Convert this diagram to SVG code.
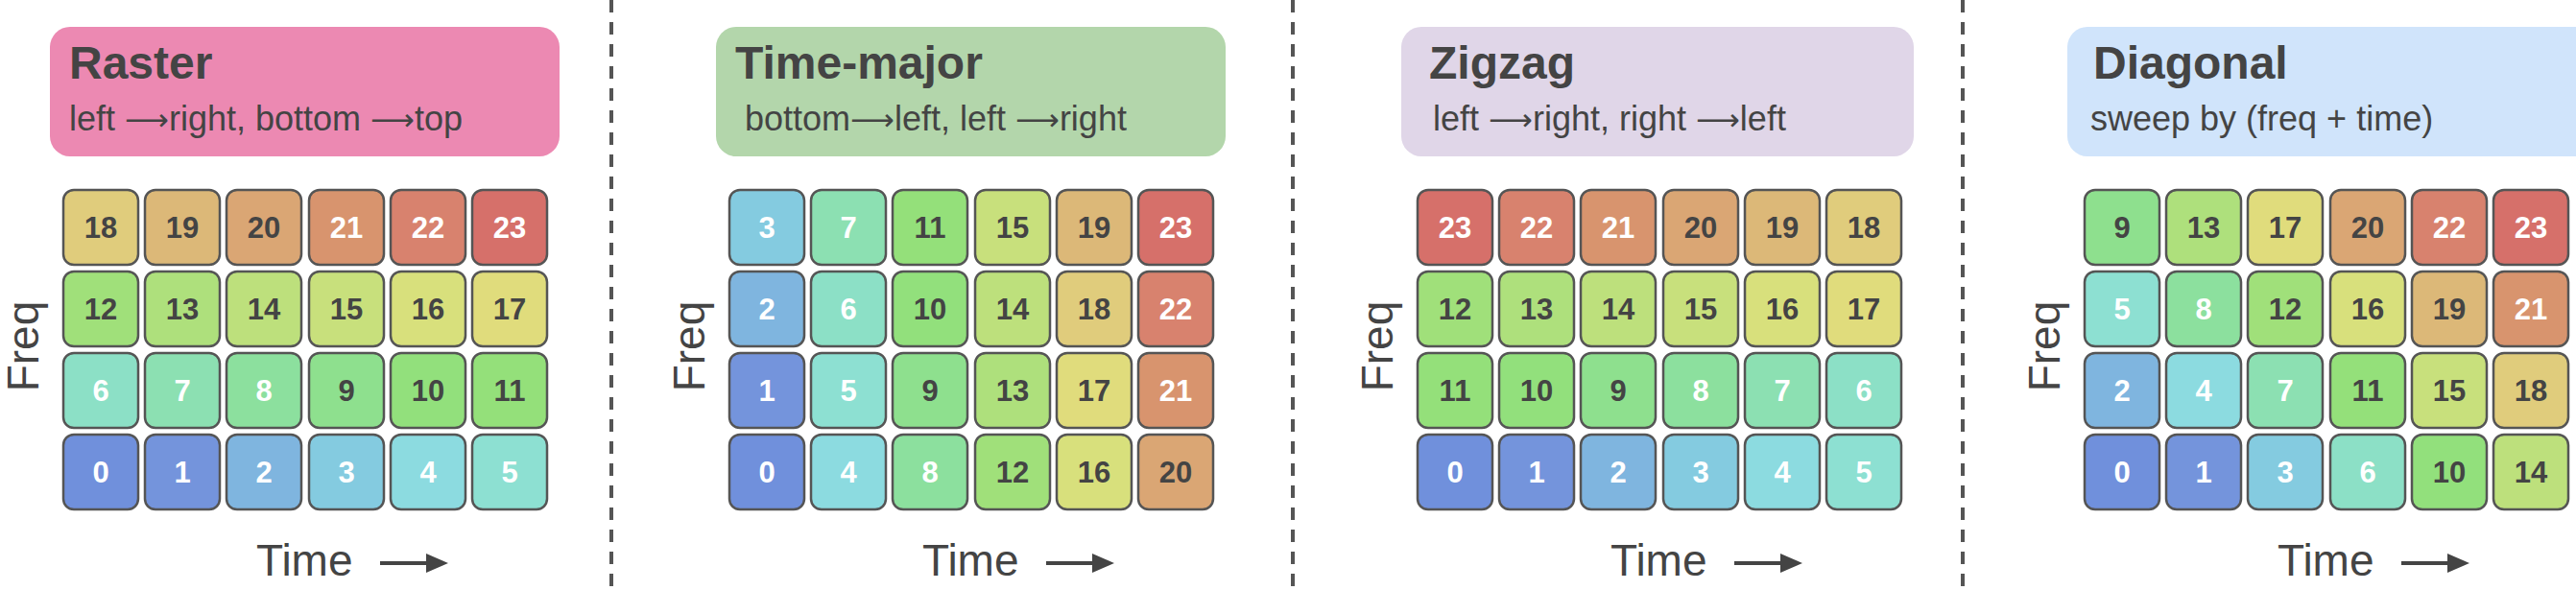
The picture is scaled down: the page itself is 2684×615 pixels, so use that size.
<svg xmlns="http://www.w3.org/2000/svg" width="2684" height="615" viewBox="0 0 2684 615">
<style>
.t{font-family:"Liberation Sans",Arial,sans-serif;font-weight:bold;font-size:48px;fill:#444}
.s{font-family:"Liberation Sans",Arial,sans-serif;font-size:36px;fill:#444}
.ar{font-family:"DejaVu Sans",sans-serif;font-size:32px}
.ax{font-family:"Liberation Sans",Arial,sans-serif;font-size:46px;fill:#444}
.cell rect{stroke:#555;stroke-width:2.5;width:78px;height:78px;rx:11px;ry:11px}
.cell text{font-family:"Liberation Sans",Arial,sans-serif;font-weight:bold;font-size:31px;text-anchor:middle}
.w text{fill:#fff}.d text{fill:#444}
.c0{fill:#7090dc}.c1{fill:#7494dc}.c2{fill:#7fb5df}.c3{fill:#84cbe0}.c4{fill:#8cdbe0}.c5{fill:#8de0d2}
.c6{fill:#8ce0c6}.c7{fill:#8ce0b2}.c8{fill:#8ce09e}.c9{fill:#8ee08e}.c10{fill:#92e07c}.c11{fill:#94e07a}
.c12{fill:#a0e07a}.c13{fill:#aee07c}.c14{fill:#bde07c}.c15{fill:#c8e07c}.c16{fill:#d8e07c}.c17{fill:#e0dc7c}
.c18{fill:#e0cc7c}.c19{fill:#dcb878}.c20{fill:#daa674}.c21{fill:#d8946e}.c22{fill:#d8826e}.c23{fill:#d6706a}
.sep{stroke:#555;stroke-width:4;stroke-dasharray:13 10}
</style>
<g id="connectors">
<line class="sep" x1="637" y1="0" x2="637" y2="615"/>
<line class="sep" x1="1347" y1="0" x2="1347" y2="615"/>
<line class="sep" x1="2045" y1="0" x2="2045" y2="615"/>
<path d="M396,587 H446" stroke="#444" stroke-width="4"/><path d="M444,577 L467,587 L444,597 z" fill="#444"/>
<path d="M1090,587 H1140" stroke="#444" stroke-width="4"/><path d="M1138,577 L1161,587 L1138,597 z" fill="#444"/>
<path d="M1807,587 H1857" stroke="#444" stroke-width="4"/><path d="M1855,577 L1878,587 L1855,597 z" fill="#444"/>
<path d="M2502,587 H2552" stroke="#444" stroke-width="4"/><path d="M2550,577 L2573,587 L2550,597 z" fill="#444"/>
</g>

<!-- Panel 1 -->
<g id="raster">
<rect x="52" y="28" width="531" height="135" rx="21" fill="#ec89b2"/>
<text class="t" x="72" y="82">Raster</text>
<text class="s" x="72" y="136">left <tspan class="ar">⟶</tspan>right, bottom <tspan class="ar">⟶</tspan>top</text>
<text class="ax" transform="translate(40,361) rotate(-90)" text-anchor="middle">Freq</text>
<text class="ax" x="267" y="600">Time</text>
<g transform="translate(66,0)">
<g class="cell d" transform="translate(0,198)"><rect class="c18"/><text x="39" y="50">18</text></g>
<g class="cell d" transform="translate(85,198)"><rect class="c19"/><text x="39" y="50">19</text></g>
<g class="cell d" transform="translate(170,198)"><rect class="c20"/><text x="39" y="50">20</text></g>
<g class="cell w" transform="translate(256,198)"><rect class="c21"/><text x="39" y="50">21</text></g>
<g class="cell w" transform="translate(341,198)"><rect class="c22"/><text x="39" y="50">22</text></g>
<g class="cell w" transform="translate(426,198)"><rect class="c23"/><text x="39" y="50">23</text></g>
<g class="cell d" transform="translate(0,283)"><rect class="c12"/><text x="39" y="50">12</text></g>
<g class="cell d" transform="translate(85,283)"><rect class="c13"/><text x="39" y="50">13</text></g>
<g class="cell d" transform="translate(170,283)"><rect class="c14"/><text x="39" y="50">14</text></g>
<g class="cell d" transform="translate(256,283)"><rect class="c15"/><text x="39" y="50">15</text></g>
<g class="cell d" transform="translate(341,283)"><rect class="c16"/><text x="39" y="50">16</text></g>
<g class="cell d" transform="translate(426,283)"><rect class="c17"/><text x="39" y="50">17</text></g>
<g class="cell w" transform="translate(0,368)"><rect class="c6"/><text x="39" y="50">6</text></g>
<g class="cell w" transform="translate(85,368)"><rect class="c7"/><text x="39" y="50">7</text></g>
<g class="cell w" transform="translate(170,368)"><rect class="c8"/><text x="39" y="50">8</text></g>
<g class="cell d" transform="translate(256,368)"><rect class="c9"/><text x="39" y="50">9</text></g>
<g class="cell d" transform="translate(341,368)"><rect class="c10"/><text x="39" y="50">10</text></g>
<g class="cell d" transform="translate(426,368)"><rect class="c11"/><text x="39" y="50">11</text></g>
<g class="cell w" transform="translate(0,453)"><rect class="c0"/><text x="39" y="50">0</text></g>
<g class="cell w" transform="translate(85,453)"><rect class="c1"/><text x="39" y="50">1</text></g>
<g class="cell w" transform="translate(170,453)"><rect class="c2"/><text x="39" y="50">2</text></g>
<g class="cell w" transform="translate(256,453)"><rect class="c3"/><text x="39" y="50">3</text></g>
<g class="cell w" transform="translate(341,453)"><rect class="c4"/><text x="39" y="50">4</text></g>
<g class="cell w" transform="translate(426,453)"><rect class="c5"/><text x="39" y="50">5</text></g>
</g>
</g>

<!-- Panel 2 -->
<g id="time-major">
<rect x="746" y="28" width="531" height="135" rx="21" fill="#b3d6ab"/>
<text class="t" x="766" y="82">Time-major</text>
<text class="s" x="776" y="136">bottom<tspan class="ar">⟶</tspan>left, left <tspan class="ar">⟶</tspan>right</text>
<text class="ax" transform="translate(734,361) rotate(-90)" text-anchor="middle">Freq</text>
<text class="ax" x="961" y="600">Time</text>
<g transform="translate(760,0)">
<g class="cell w" transform="translate(0,198)"><rect class="c3"/><text x="39" y="50">3</text></g>
<g class="cell w" transform="translate(85,198)"><rect class="c7"/><text x="39" y="50">7</text></g>
<g class="cell d" transform="translate(170,198)"><rect class="c11"/><text x="39" y="50">11</text></g>
<g class="cell d" transform="translate(256,198)"><rect class="c15"/><text x="39" y="50">15</text></g>
<g class="cell d" transform="translate(341,198)"><rect class="c19"/><text x="39" y="50">19</text></g>
<g class="cell w" transform="translate(426,198)"><rect class="c23"/><text x="39" y="50">23</text></g>
<g class="cell w" transform="translate(0,283)"><rect class="c2"/><text x="39" y="50">2</text></g>
<g class="cell w" transform="translate(85,283)"><rect class="c6"/><text x="39" y="50">6</text></g>
<g class="cell d" transform="translate(170,283)"><rect class="c10"/><text x="39" y="50">10</text></g>
<g class="cell d" transform="translate(256,283)"><rect class="c14"/><text x="39" y="50">14</text></g>
<g class="cell d" transform="translate(341,283)"><rect class="c18"/><text x="39" y="50">18</text></g>
<g class="cell w" transform="translate(426,283)"><rect class="c22"/><text x="39" y="50">22</text></g>
<g class="cell w" transform="translate(0,368)"><rect class="c1"/><text x="39" y="50">1</text></g>
<g class="cell w" transform="translate(85,368)"><rect class="c5"/><text x="39" y="50">5</text></g>
<g class="cell d" transform="translate(170,368)"><rect class="c9"/><text x="39" y="50">9</text></g>
<g class="cell d" transform="translate(256,368)"><rect class="c13"/><text x="39" y="50">13</text></g>
<g class="cell d" transform="translate(341,368)"><rect class="c17"/><text x="39" y="50">17</text></g>
<g class="cell w" transform="translate(426,368)"><rect class="c21"/><text x="39" y="50">21</text></g>
<g class="cell w" transform="translate(0,453)"><rect class="c0"/><text x="39" y="50">0</text></g>
<g class="cell w" transform="translate(85,453)"><rect class="c4"/><text x="39" y="50">4</text></g>
<g class="cell w" transform="translate(170,453)"><rect class="c8"/><text x="39" y="50">8</text></g>
<g class="cell d" transform="translate(256,453)"><rect class="c12"/><text x="39" y="50">12</text></g>
<g class="cell d" transform="translate(341,453)"><rect class="c16"/><text x="39" y="50">16</text></g>
<g class="cell d" transform="translate(426,453)"><rect class="c20"/><text x="39" y="50">20</text></g>
</g>
</g>

<!-- Panel 3 -->
<g id="zigzag">
<rect x="1460" y="28" width="534" height="135" rx="21" fill="#e0d6e8"/>
<text class="t" x="1489" y="82">Zigzag</text>
<text class="s" x="1493" y="136">left <tspan class="ar">⟶</tspan>right, right <tspan class="ar">⟶</tspan>left</text>
<text class="ax" transform="translate(1451,361) rotate(-90)" text-anchor="middle">Freq</text>
<text class="ax" x="1678" y="600">Time</text>
<g transform="translate(1477,0)">
<g class="cell w" transform="translate(0,198)"><rect class="c23"/><text x="39" y="50">23</text></g>
<g class="cell w" transform="translate(85,198)"><rect class="c22"/><text x="39" y="50">22</text></g>
<g class="cell w" transform="translate(170,198)"><rect class="c21"/><text x="39" y="50">21</text></g>
<g class="cell d" transform="translate(256,198)"><rect class="c20"/><text x="39" y="50">20</text></g>
<g class="cell d" transform="translate(341,198)"><rect class="c19"/><text x="39" y="50">19</text></g>
<g class="cell d" transform="translate(426,198)"><rect class="c18"/><text x="39" y="50">18</text></g>
<g class="cell d" transform="translate(0,283)"><rect class="c12"/><text x="39" y="50">12</text></g>
<g class="cell d" transform="translate(85,283)"><rect class="c13"/><text x="39" y="50">13</text></g>
<g class="cell d" transform="translate(170,283)"><rect class="c14"/><text x="39" y="50">14</text></g>
<g class="cell d" transform="translate(256,283)"><rect class="c15"/><text x="39" y="50">15</text></g>
<g class="cell d" transform="translate(341,283)"><rect class="c16"/><text x="39" y="50">16</text></g>
<g class="cell d" transform="translate(426,283)"><rect class="c17"/><text x="39" y="50">17</text></g>
<g class="cell d" transform="translate(0,368)"><rect class="c11"/><text x="39" y="50">11</text></g>
<g class="cell d" transform="translate(85,368)"><rect class="c10"/><text x="39" y="50">10</text></g>
<g class="cell d" transform="translate(170,368)"><rect class="c9"/><text x="39" y="50">9</text></g>
<g class="cell w" transform="translate(256,368)"><rect class="c8"/><text x="39" y="50">8</text></g>
<g class="cell w" transform="translate(341,368)"><rect class="c7"/><text x="39" y="50">7</text></g>
<g class="cell w" transform="translate(426,368)"><rect class="c6"/><text x="39" y="50">6</text></g>
<g class="cell w" transform="translate(0,453)"><rect class="c0"/><text x="39" y="50">0</text></g>
<g class="cell w" transform="translate(85,453)"><rect class="c1"/><text x="39" y="50">1</text></g>
<g class="cell w" transform="translate(170,453)"><rect class="c2"/><text x="39" y="50">2</text></g>
<g class="cell w" transform="translate(256,453)"><rect class="c3"/><text x="39" y="50">3</text></g>
<g class="cell w" transform="translate(341,453)"><rect class="c4"/><text x="39" y="50">4</text></g>
<g class="cell w" transform="translate(426,453)"><rect class="c5"/><text x="39" y="50">5</text></g>
</g>
</g>

<!-- Panel 4 -->
<g id="diagonal">
<rect x="2154" y="28" width="560" height="135" rx="21" fill="#d0e4fb"/>
<text class="t" x="2181" y="82">Diagonal</text>
<text class="s" x="2178" y="136">sweep by (freq + time)</text>
<text class="ax" transform="translate(2146,361) rotate(-90)" text-anchor="middle">Freq</text>
<text class="ax" x="2373" y="600">Time</text>
<g transform="translate(2172,0)">
<g class="cell d" transform="translate(0,198)"><rect class="c9"/><text x="39" y="50">9</text></g>
<g class="cell d" transform="translate(85,198)"><rect class="c13"/><text x="39" y="50">13</text></g>
<g class="cell d" transform="translate(170,198)"><rect class="c17"/><text x="39" y="50">17</text></g>
<g class="cell d" transform="translate(256,198)"><rect class="c20"/><text x="39" y="50">20</text></g>
<g class="cell w" transform="translate(341,198)"><rect class="c22"/><text x="39" y="50">22</text></g>
<g class="cell w" transform="translate(426,198)"><rect class="c23"/><text x="39" y="50">23</text></g>
<g class="cell w" transform="translate(0,283)"><rect class="c5"/><text x="39" y="50">5</text></g>
<g class="cell w" transform="translate(85,283)"><rect class="c8"/><text x="39" y="50">8</text></g>
<g class="cell d" transform="translate(170,283)"><rect class="c12"/><text x="39" y="50">12</text></g>
<g class="cell d" transform="translate(256,283)"><rect class="c16"/><text x="39" y="50">16</text></g>
<g class="cell d" transform="translate(341,283)"><rect class="c19"/><text x="39" y="50">19</text></g>
<g class="cell w" transform="translate(426,283)"><rect class="c21"/><text x="39" y="50">21</text></g>
<g class="cell w" transform="translate(0,368)"><rect class="c2"/><text x="39" y="50">2</text></g>
<g class="cell w" transform="translate(85,368)"><rect class="c4"/><text x="39" y="50">4</text></g>
<g class="cell w" transform="translate(170,368)"><rect class="c7"/><text x="39" y="50">7</text></g>
<g class="cell d" transform="translate(256,368)"><rect class="c11"/><text x="39" y="50">11</text></g>
<g class="cell d" transform="translate(341,368)"><rect class="c15"/><text x="39" y="50">15</text></g>
<g class="cell d" transform="translate(426,368)"><rect class="c18"/><text x="39" y="50">18</text></g>
<g class="cell w" transform="translate(0,453)"><rect class="c0"/><text x="39" y="50">0</text></g>
<g class="cell w" transform="translate(85,453)"><rect class="c1"/><text x="39" y="50">1</text></g>
<g class="cell w" transform="translate(170,453)"><rect class="c3"/><text x="39" y="50">3</text></g>
<g class="cell w" transform="translate(256,453)"><rect class="c6"/><text x="39" y="50">6</text></g>
<g class="cell d" transform="translate(341,453)"><rect class="c10"/><text x="39" y="50">10</text></g>
<g class="cell d" transform="translate(426,453)"><rect class="c14"/><text x="39" y="50">14</text></g>
</g>
</g>
</svg>
